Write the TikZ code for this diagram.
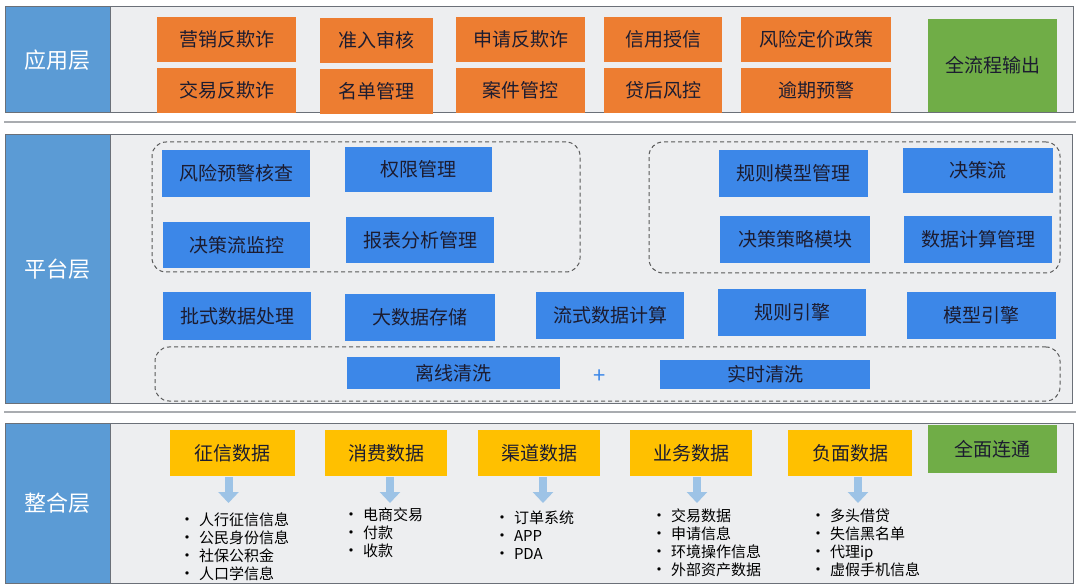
\documentclass[tikz,border=0pt]{standalone}
\usepackage{fontspec}
\setmainfont{Noto Sans CJK SC}
\usetikzlibrary{arrows.meta}
\definecolor{lblue}{HTML}{5B9BD5}
\definecolor{bblue}{HTML}{3C87E8}
\definecolor{orng}{HTML}{ED7D31}
\definecolor{grn}{HTML}{70AD47}
\definecolor{ylw}{HTML}{FFC000}
\definecolor{panel}{HTML}{EDEEF0}
\definecolor{edge}{HTML}{6B7078}
\definecolor{ink}{HTML}{1C1C30}
\definecolor{arrc}{HTML}{9DC3E6}
\definecolor{sepc}{HTML}{A9ACB0}
\newcommand\bx[7]{%
  \pgfmathsetmacro\bxcx{(#3+#5)/2}\pgfmathsetmacro\bxcy{(#4+#6)/2}%
  \pgfmathsetmacro\bxw{#5-#3}\pgfmathsetmacro\bxh{#6-#4}%
  \node[#2, minimum width=\bxw pt, minimum height=\bxh pt] (#1) at (\bxcx,\bxcy) {#7};}
\newcommand\bul{\makebox[20pt][l]{\raisebox{0pt}{\fontsize{16}{16}\selectfont •}}}
\newcommand\blist[4]{%
  \node[listtxt, anchor=base west] (#1) at (#2,#3)
    {\begin{tabular}[t]{@{}l@{}}#4\end{tabular}};}
\begin{document}
\begin{tikzpicture}[x=1pt,y=-1pt,
  every node/.style={inner sep=0pt, outer sep=0pt},
  panelbox/.style={draw=edge, line width=1pt, fill=panel},
  layerlabel/.style={draw=edge, line width=1pt, fill=lblue, text=white, font=\fontsize{22}{26}\selectfont},
  basebox/.style={text=ink, font=\fontsize{19}{22}\selectfont},
  obox/.style={basebox, fill=orng},
  bbox/.style={basebox, fill=bblue},
  ybox/.style={basebox, fill=ylw},
  gbox/.style={basebox, fill=grn},
  dashbox/.style={draw=black!65, dashed, dash pattern=on 4pt off 3pt, line width=1pt, rounded corners=14pt},
  sepline/.style={draw=sepc, line width=2pt},
  barrow/.style={draw=arrc, line width=8pt, -{Triangle[width=20pt,length=11pt]}},
  listtxt/.style={text=black, font=\fontsize{15}{18}\selectfont}]
\useasboundingbox (0,0) rectangle (1080,588);
\fill[white] (0,0) rectangle (1080,588);

% ---------- application layer ----------
\bx{appP}{panelbox}{5}{7}{1073}{113}{}
\bx{appL}{layerlabel}{5}{7}{110}{113}{应用层}
\bx{a1}{obox}{157}{17}{296}{62}{营销反欺诈}
\bx{a2}{obox}{320}{18}{433}{63}{准入审核}
\bx{a3}{obox}{456}{17}{585}{62}{申请反欺诈}
\bx{a4}{obox}{604}{17}{722}{62}{信用授信}
\bx{a5}{obox}{741}{17}{891}{62}{风险定价政策}
\bx{b1}{obox}{157}{68}{296}{113}{交易反欺诈}
\bx{b2}{obox}{320}{69}{433}{114}{名单管理}
\bx{b3}{obox}{456}{68}{585}{113}{案件管控}
\bx{b4}{obox}{604}{68}{722}{113}{贷后风控}
\bx{b5}{obox}{741}{68}{891}{113}{逾期预警}
\bx{aout}{gbox}{928}{19}{1057}{112}{全流程输出}

\draw[sepline] (4,122) -- (1076,122);

% ---------- platform layer ----------
\bx{plP}{panelbox}{5}{135}{1072}{403}{}
\bx{plL}{layerlabel}{5}{135}{110}{403}{平台层}
\bx{dl}{dashbox}{152}{142}{580}{272}{}
\bx{dr}{dashbox}{649}{142}{1060}{273}{}
\bx{db}{dashbox}{155}{347}{1060}{401}{}
\bx{p1}{bbox}{162}{150}{310}{197}{风险预警核查}
\bx{p2}{bbox}{345}{147}{492}{192}{权限管理}
\bx{p3}{bbox}{163}{222}{310}{268}{决策流监控}
\bx{p4}{bbox}{346}{217}{494}{263}{报表分析管理}
\bx{p5}{bbox}{719}{150}{868}{197}{规则模型管理}
\bx{p6}{bbox}{903}{148}{1053}{193}{决策流}
\bx{p7}{bbox}{720}{216}{870}{263}{决策策略模块}
\bx{p8}{bbox}{904}{216}{1052}{263}{数据计算管理}
\bx{q1}{bbox}{163}{292}{311}{340}{批式数据处理}
\bx{q2}{bbox}{345}{294}{495}{341}{大数据存储}
\bx{q3}{bbox}{536}{292}{684}{339}{流式数据计算}
\bx{q4}{bbox}{718}{289}{866}{336}{规则引擎}
\bx{q5}{bbox}{907}{292}{1056}{339}{模型引擎}
\bx{c1}{bbox}{347}{357}{560}{389}{离线清洗}
\bx{c2}{bbox}{660}{360}{870}{389}{实时清洗}
\node[text=bblue, font=\fontsize{22}{22}\selectfont] (plus) at (600,377) {+};

\draw[sepline] (4,412) -- (1076,412);

% ---------- integration layer ----------
\bx{inP}{panelbox}{5}{423}{1073}{583}{}
\bx{inL}{layerlabel}{5}{423}{110}{583}{整合层}
\bx{z1}{ybox}{170}{430}{295}{476}{征信数据}
\bx{z2}{ybox}{325}{430}{447}{476}{消费数据}
\bx{z3}{ybox}{478}{430}{600}{476}{渠道数据}
\bx{z4}{ybox}{630}{430}{752}{476}{业务数据}
\bx{z5}{ybox}{788}{430}{912}{476}{负面数据}
\bx{zout}{gbox}{928}{425}{1057}{473}{全面连通}

\draw[barrow] ([xshift=-4pt,yshift=-1pt]z1.south) -- ++(0,26);
\draw[barrow] ([xshift=4pt,yshift=-1pt]z2.south) -- ++(0,26);
\draw[barrow] ([xshift=4pt,yshift=-1pt]z3.south) -- ++(0,26);
\draw[barrow] ([xshift=6pt,yshift=-1pt]z4.south) -- ++(0,26);
\draw[barrow] ([xshift=8pt,yshift=-1pt]z5.south) -- ++(0,26);

\blist{l1}{179}{525}{\bul 人行征信信息\\ \bul 公民身份信息\\ \bul 社保公积金\\ \bul 人口学信息}
\blist{l2}{343}{520}{\bul 电商交易\\ \bul 付款\\ \bul 收款}
\blist{l3}{494}{523}{\bul 订单系统\\ \bul APP\\ \bul PDA}
\blist{l4}{651}{521}{\bul 交易数据\\ \bul 申请信息\\ \bul 环境操作信息\\ \bul 外部资产数据}
\blist{l5}{810}{521}{\bul 多头借贷\\ \bul 失信黑名单\\ \bul 代理ip\\ \bul 虚假手机信息}
\end{tikzpicture}
\end{document}
